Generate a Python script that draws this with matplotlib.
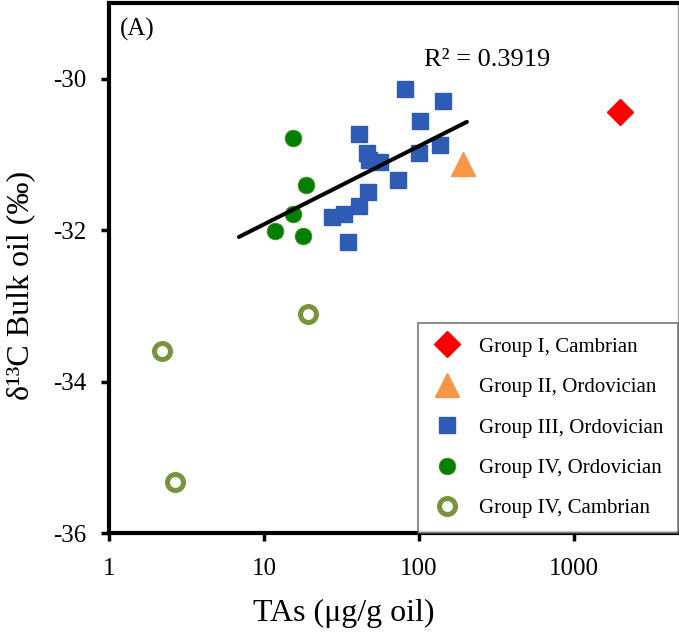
import numpy as np
import matplotlib
matplotlib.use("Agg")
import matplotlib.pyplot as plt

plt.rcParams["font.family"] = ["Liberation Serif", "DejaVu Serif"]
plt.rcParams["mathtext.fontset"] = "stix"

# TAs concentration (ug/g oil) vs bulk oil d13C (permil), by oil group
g1_cam_x = [1980]
g1_cam_y = [-30.44]

g2_ord_x = [192]
g2_ord_y = [-31.12]

g3_ord_x = [81, 143, 102, 41, 137, 46, 100, 48, 56, 73, 47, 41, 33, 27.5, 35]
g3_ord_y = [-30.13, -30.30, -30.56, -30.73, -30.87, -30.98, -30.98, -31.07,
            -31.10, -31.34, -31.50, -31.68, -31.79, -31.83, -32.16]

g4_ord_x = [15.4, 18.7, 15.4, 11.8, 17.9]
g4_ord_y = [-30.78, -31.40, -31.79, -32.01, -32.08]

g4_cam_x = [2.19, 19.2, 2.67]
g4_cam_y = [-33.59, -33.11, -35.32]

# logarithmic trend line end points
trend_x = [6.9, 204]
trend_y = [-32.09, -30.57]
r2_text = "R² = 0.3919"

fig = plt.figure(figsize=(6.79, 6.35), dpi=100)
ax = fig.add_axes([0.1605, 0.1606, 0.838, 0.8347])

ax.plot(g1_cam_x, g1_cam_y, ls="none", marker="D", ms=13.5, color="#FF0000",
        mec="#FF0000", label="Group I, Cambrian", zorder=3)
ax.plot(g2_ord_x, g2_ord_y, ls="none", marker="^", ms=17, color="#F79646",
        mec="#F79646", label="Group II, Ordovician", zorder=3)
ax.plot(g3_ord_x, g3_ord_y, ls="none", marker="s", ms=11.5, color="#2E5CB4",
        mec="#2E5CB4", label="Group III, Ordovician", zorder=3)
ax.plot(g4_ord_x, g4_ord_y, ls="none", marker="o", ms=12, color="#008000",
        mec="#4F8A1E", mew=0.6, label="Group IV, Ordovician", zorder=3)
ax.plot(g4_cam_x, g4_cam_y, ls="none", marker="o", ms=11.5, mfc="white",
        mec="#77933C", mew=3.6, label="Group IV, Cambrian", zorder=3)

ax.plot(trend_x, trend_y, color="black", lw=2.9, solid_capstyle="round", zorder=4)

ax.set_xscale("log")
ax.set_xlim(1, 4700)
ax.set_ylim(-36, -29)
ax.set_xticks([1, 10, 100, 1000])
ax.set_xticklabels(["1", "10", "100", "1000"])
ax.xaxis.set_minor_locator(matplotlib.ticker.NullLocator())
ax.set_yticks([-36, -34, -32, -30])
ax.set_yticklabels(["-36", "-34", "-32", "-30"])

for side in ["left", "bottom", "top"]:
    ax.spines[side].set_linewidth(3)
    ax.spines[side].set_color("black")
ax.spines["right"].set_linewidth(1)
ax.spines["right"].set_color("#A6A6A6")

ax.tick_params(axis="both", which="major", direction="out", length=6,
               width=2.5, labelsize=18, pad=12)
ax.tick_params(axis="y", pad=10)

ax.set_xlabel("TAs (μg/g oil)", fontsize=23)
ax.xaxis.set_label_coords(0.413, -0.125)
ax.set_ylabel("δ¹³C Bulk oil (‰)", fontsize=23)
ax.yaxis.set_label_coords(-0.13, 0.468)

ax.text(0.02, 0.972, "(A)", transform=ax.transAxes, fontsize=18,
        ha="left", va="top")
ax.text(0.665, 0.892, r2_text, transform=ax.transAxes, fontsize=19,
        ha="center", va="center")

leg = ax.legend(loc="lower right", bbox_to_anchor=(1.0, 0.0), fontsize=15,
                frameon=True, fancybox=False, borderaxespad=0,
                handletextpad=0.84, labelspacing=1.0, borderpad=0.7,
                handlelength=1.4)
leg.get_frame().set_edgecolor("#595959")
leg.get_frame().set_linewidth(1.2)

fig.savefig("out.png", dpi=100)
